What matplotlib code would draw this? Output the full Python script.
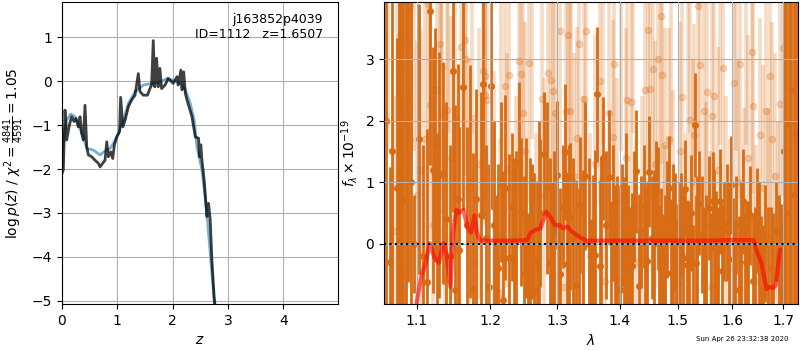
import numpy as np
import matplotlib
matplotlib.use('Agg')
import matplotlib.pyplot as plt
from matplotlib.ticker import NullLocator

# ---- left panel: log p(z) ----
z_smooth = [0.0, 0.01, 0.085, 0.157, 0.235, 0.31, 0.386, 0.447, 0.567, 0.688, 0.778, 0.869, 0.929,
            1.02, 1.11, 1.2, 1.32, 1.47, 1.65, 1.77, 1.9, 2.01, 2.14, 2.23, 2.32, 2.39, 2.44, 2.53,
            2.62, 2.68, 2.74, 2.77]
lnp_smooth = [-1.9, -1.5, -0.89, -0.75, -0.81, -1.04, -1.27, -1.53, -1.57, -1.68, -1.59, -1.53, -1.42,
              -1.19, -0.89, -0.51, -0.24, -0.09, -0.05, -0.02, 0.06, 0.02, -0.05, -0.2, -0.51, -0.89,
              -1.49, -2.02, -3.0, -3.92, -4.83, -5.3]

z_raw = [0.0, 0.024, 0.054, 0.085, 0.133, 0.175, 0.217, 0.253, 0.296, 0.326, 0.356, 0.386, 0.416,
         0.447, 0.477, 0.537, 0.597, 0.658, 0.688, 0.736, 0.778, 0.809, 0.839, 0.881, 0.917, 0.947,
         0.99, 1.04, 1.06, 1.10, 1.14, 1.2, 1.26, 1.32, 1.38, 1.41, 1.47, 1.545, 1.59, 1.62, 1.65,
         1.678, 1.71, 1.74, 1.77, 1.80, 1.864, 1.92, 1.955, 2.01, 2.08, 2.1, 2.15, 2.17, 2.2, 2.23,
         2.26, 2.35, 2.41, 2.47, 2.485, 2.51, 2.53, 2.57, 2.62, 2.65, 2.68, 2.71, 2.75, 2.78]
lnp_raw = [-2.1, -2.02, -0.66, -1.34, -1.0, -0.81, -0.92, -0.85, -1.04, -0.81, -1.19, -1.34, -0.55,
           -1.49, -1.68, -1.72, -1.8, -1.87, -1.95, -1.87, -1.8, -1.38, -1.72, -1.61, -1.76, -1.45,
           -1.27, -1.15, -0.37, -1.04, -0.89, -0.58, -0.43, -0.32, 0.17, -0.24, -0.32, -0.32, -0.17,
           -0.09, 0.92, -0.13, 0.52, -0.13, 0.29, -0.17, -0.09, 0.06, 0.02, -0.05, 0.1, -0.09, 0.25,
           -0.2, 0.21, -0.28, -0.43, -0.81, -1.27, -1.3, -1.72, -1.45, -1.8, -2.25, -3.08, -2.78,
           -3.16, -4.07, -4.9, -5.3]

# ---- right panel: spectrum (microns, f_lambda x 1e-19) ----
# binned points, marker inside the window
wave_a = [1.060, 1.065, 1.068, 1.074, 1.077, 1.080, 1.082, 1.086, 1.089, 1.093, 1.097, 1.103, 1.108,
          1.113, 1.117, 1.121, 1.124, 1.127, 1.130, 1.135, 1.139, 1.144, 1.148, 1.151, 1.155, 1.157,
          1.162, 1.167, 1.172, 1.176, 1.180, 1.187, 1.190, 1.194, 1.198, 1.201, 1.206, 1.212, 1.216,
          1.219, 1.222, 1.227, 1.231, 1.235, 1.242, 1.245, 1.249, 1.253, 1.258, 1.262, 1.265, 1.269,
          1.274, 1.280, 1.284, 1.289, 1.294, 1.299, 1.304, 1.308, 1.312, 1.315, 1.320, 1.324, 1.329,
          1.336, 1.344, 1.350, 1.356, 1.359, 1.363, 1.367, 1.372, 1.377, 1.382, 1.388, 1.392, 1.400,
          1.404, 1.407, 1.414, 1.420, 1.424, 1.428, 1.432, 1.436, 1.440, 1.446, 1.450, 1.455, 1.461,
          1.465, 1.470, 1.474, 1.480, 1.485, 1.488, 1.494, 1.500, 1.505, 1.510, 1.513, 1.517, 1.524,
          1.530, 1.532, 1.538, 1.543, 1.548, 1.556, 1.563, 1.570, 1.577, 1.580, 1.585, 1.590, 1.598,
          1.602, 1.608, 1.613, 1.621, 1.627, 1.634, 1.640, 1.648, 1.655, 1.664, 1.675, 1.686, 1.695,
          1.702, 1.706, 1.711, 1.716, 1.721, 1.726]
flux_a = [2.0, -0.3, 1.5, 0.9, 2.0, 1.35, 0.73, 2.0, 2.38, 1.0, 0.0, 1.7, -0.2,
          -0.63, 3.78, 1.2, 1.6, 0.2, 1.12, 1.15, 0.4, -0.2, 2.81, -0.75, 0.72, -0.11,
          2.55, 0.3, 1.01, -0.73, 0.72, 0.46, 2.6, 0.1, -0.7, 2.57, 0.3, -0.4, 1.0,
          -0.91, 0.91, -0.24, 0.6, -0.2, 1.33, 0.52, -0.5, 0.42, -0.1, 0.2, -0.75, -0.28,
          0.5, 1.46, 0.91, -0.3, 0.2, 1.12, -0.5, 0.6, 1.49, -0.33, 0.44, 0.1, -0.67,
          0.63, 1.1, 0.0, -0.18, -0.18, 2.43, -0.37, 1.39, 0.3, 1.08, 0.5, -0.55, -0.75,
          0.3, -0.11, -0.34, -0.37, 0.6, 1.18, -0.69, 0.2, 0.61, -0.28, 1.17, 0.1, 0.82,
          0.57, -0.2, -0.91, 0.39, 0.9, -0.48, 0.2, -0.65, 0.3, -0.23, 0.89, -0.34, 0.5,
          1.93, -0.31, 0.66, 0.15, -0.61, 0.58, 0.69, -0.1, 0.69, -0.45, 0.2, 0.34, 0.95,
          -0.25, 0.3, -0.75, 0.69, -0.3, 0.46, -0.6, 0.38, -0.5, 0.0, -0.4, 0.2, -0.3,
          1.5, 0.5, 1.94, 2.5, 0.8, 1.8]
err_a = [5.0, 1.55, 4.5, 2.45, 4.5, 3.0, 3.5, 4.5, 3.0, 4.0, 0.8, 2.2, 1.8,
         2.5, 2.5, 2.0, 1.9, 1.6, 2.0, 1.8, 1.9, 1.8, 2.3, 3.0, 2.2, 2.0,
         2.0, 1.6, 1.9, 2.2, 1.8, 2.0, 2.2, 1.5, 2.0, 2.0, 1.7, 1.7, 1.3,
         2.1, 1.5, 1.7, 1.2, 1.6, 1.3, 1.2, 1.6, 1.3, 1.5, 1.1, 1.9, 1.3,
         1.2, 1.0, 1.4, 1.7, 1.3, 1.2, 1.4, 1.0, 1.1, 1.5, 1.2, 1.3, 1.7,
         1.1, 1.2, 1.4, 1.3, 1.7, 1.1, 1.4, 1.0, 1.2, 1.1, 1.1, 1.5, 1.7,
         1.0, 1.2, 1.3, 1.2, 0.9, 1.0, 1.5, 0.9, 1.0, 1.3, 0.9, 1.0, 0.85,
         1.0, 1.1, 1.4, 0.95, 0.85, 1.2, 0.95, 1.3, 0.85, 1.1, 0.8, 1.05, 0.95,
         0.85, 1.1, 0.85, 0.95, 1.2, 0.85, 0.8, 0.95, 0.85, 1.1, 0.8, 0.95, 0.8,
         1.0, 0.8, 1.2, 0.85, 1.0, 0.8, 1.1, 0.85, 0.95, 0.95, 1.0, 0.8, 0.95,
         4.0, 4.5, 3.0, 4.0, 4.5, 4.0]

# binned points whose marker falls below the window
wave_c = [1.209, 1.238, 1.255, 1.272, 1.291, 1.302, 1.318, 1.333, 1.340, 1.353, 1.369, 1.385, 1.396,
          1.411, 1.417, 1.443, 1.458, 1.467, 1.477, 1.491, 1.497, 1.503, 1.520, 1.527, 1.535, 1.551,
          1.560, 1.566, 1.573, 1.594, 1.605, 1.617, 1.624, 1.631, 1.644, 1.652, 1.660, 1.669, 1.680,
          1.691, 1.698]
flux_c = [-1.5, -1.8, -1.3, -2.0, -1.6, -1.4, -2.2, -1.5, -1.7, -1.3, -1.9, -1.4, -1.6,
          -2.1, -1.4, -1.5, -1.8, -1.3, -1.6, -2.0, -1.4, -1.7, -1.5, -1.3, -1.9, -1.6,
          -1.4, -2.0, -1.5, -1.7, -1.3, -1.8, -1.4, -1.6, -1.5, -1.9, -1.4, -1.6, -1.5,
          -1.7, -1.4]
err_c = [2.3, 3.3, 1.8, 4.0, 2.6, 1.7, 3.8, 2.4, 2.9, 1.7, 3.3, 2.1, 2.7,
         3.9, 2.0, 2.4, 3.0, 1.8, 2.4, 3.3, 1.8, 2.7, 2.2, 1.6, 3.0, 2.4,
         1.9, 3.2, 2.1, 2.6, 1.7, 2.8, 1.9, 2.3, 2.1, 2.9, 1.7, 2.2, 2.0,
         2.5, 1.8]

# unbinned points (drawn faint)
wave_b = [1.0625, 1.0705, 1.0745, 1.078, 1.081, 1.0845, 1.0861, 1.0909, 1.0918, 1.096, 1.100, 1.106,
          1.1114, 1.1149, 1.1176, 1.122, 1.1274, 1.1305, 1.1318, 1.1336, 1.138, 1.1404, 1.141, 1.145,
          1.1508, 1.1595, 1.1647, 1.1665, 1.170, 1.174, 1.178, 1.184, 1.190, 1.1925, 1.1935, 1.196,
          1.205, 1.214, 1.216, 1.2209, 1.225, 1.2276, 1.238, 1.2418, 1.2452, 1.2481, 1.251, 1.257,
          1.262, 1.267, 1.2763, 1.280, 1.2851, 1.2897, 1.2936, 1.2963, 1.300, 1.304, 1.310, 1.3132,
          1.3159, 1.3195, 1.321, 1.326, 1.3301, 1.3343, 1.340, 1.3422, 1.3454, 1.352, 1.360, 1.3676,
          1.372, 1.375, 1.3826, 1.388, 1.3908, 1.396, 1.402, 1.410, 1.4115, 1.4187, 1.422, 1.428,
          1.438, 1.443, 1.4482, 1.4518, 1.4568, 1.460, 1.4655, 1.4703, 1.4715, 1.4774, 1.478, 1.4849,
          1.488, 1.492, 1.503, 1.5082, 1.515, 1.518, 1.5209, 1.527, 1.5294, 1.536, 1.5396, 1.5469,
          1.550, 1.5532, 1.560, 1.5625, 1.5654, 1.573, 1.576, 1.5822, 1.588, 1.596, 1.603, 1.608,
          1.611, 1.6157, 1.622, 1.627, 1.631, 1.6383, 1.6403, 1.645, 1.6531, 1.660, 1.6651, 1.670,
          1.6744, 1.6778, 1.683, 1.690, 1.6939, 1.699, 1.704]
flux_b = [4.5, 0.2, 5.0, 3.37, 2.88, -0.5, 3.24, 1.7, 3.87, 4.5, 0.8, 1.2,
          1.71, 3.9, 2.26, 0.3, 2.5, 3.24, 2.13, 2.88, -0.6, 2.17, 4.8, 1.4,
          2.01, 3.2, 3.31, 3.0, 0.9, 4.3, -0.3, 1.3, 2.8, 2.73, 2.41, 2.34,
          0.6, -0.8, 4.6, 2.56, 1.2, 2.75, 0.1, 2.97, 2.76, 2.12, 1.5, 2.94,
          4.2, -0.4, 2.35, 0.8, 2.78, 2.66, 2.48, 2.12, 0.3, 3.45, -0.7, 2.15,
          3.39, 2.16, 4.4, 1.1, 1.72, 3.25, 0.5, 2.35, 3.45, -0.2, 1.3, 2.65,
          4.1, -0.6, 2.13, 1.74, 2.92, 0.7, 4.5, 1.4, 2.34, 2.31, 4.2, -0.3,
          0.4, 2.5, 3.47, 2.51, 2.84, 1.3, 3.0, 3.7, 2.75, 1.61, -0.5, 1.71,
          4.6, 0.6, 1.5, 2.39, -0.2, 4.3, 2.01, 1.0, 1.77, 3.87, 2.9, 2.16,
          0.3, 2.47, -0.7, 2.08, 2.4, 1.2, 4.4, 2.86, 0.5, -0.4, 2.62, 4.5,
          1.0, 2.92, 0.2, 4.2, 1.4, 3.12, 2.24, -0.6, 1.77, 0.9, 2.16, 0.1,
          2.73, 1.71, 1.1, -0.2, 2.27, 3.18, 0.5]
err_b = [3.0, 2.2, 3.0, 2.6, 2.4, 2.8, 2.5, 2.2, 2.8, 3.0, 2.5, 2.3,
         2.4, 2.6, 2.2, 2.4, 2.3, 2.5, 2.1, 2.4, 2.6, 2.2, 3.0, 2.3,
         2.2, 2.4, 2.2, 2.3, 2.1, 2.5, 2.4, 2.2, 2.2, 2.0, 2.1, 2.0,
         2.2, 2.5, 3.0, 2.1, 1.9, 2.2, 2.3, 2.2, 2.0, 1.9, 2.1, 2.3,
         2.5, 2.2, 2.0, 1.9, 2.1, 2.0, 1.9, 1.8, 2.0, 2.4, 2.1, 1.9,
         2.2, 1.9, 3.0, 2.0, 1.8, 2.2, 1.9, 2.0, 2.3, 2.0, 2.1, 2.0,
         2.5, 2.1, 1.9, 1.9, 2.2, 2.0, 3.0, 2.1, 1.9, 2.0, 2.4, 2.0,
         2.0, 2.1, 2.3, 1.9, 2.1, 2.0, 2.2, 2.4, 2.0, 1.9, 2.1, 1.8,
         3.0, 1.9, 2.1, 2.0, 2.0, 2.5, 1.9, 2.0, 1.8, 2.4, 2.1, 1.9,
         2.0, 2.0, 2.2, 1.9, 2.0, 2.0, 2.8, 2.1, 1.9, 2.1, 2.0, 3.0,
         2.0, 2.2, 2.0, 2.6, 2.0, 2.3, 1.9, 2.2, 1.9, 2.0, 2.0, 2.1,
         2.2, 1.9, 2.0, 2.2, 2.0, 2.4, 2.3]

model_wave = [1.090, 1.0995, 1.1059, 1.1117, 1.117, 1.1235, 1.1293, 1.135, 1.1394, 1.145, 1.1483,
              1.153, 1.156, 1.1627, 1.168, 1.173, 1.178, 1.1815, 1.186, 1.20, 1.22, 1.24, 1.254,
              1.2588, 1.267, 1.274, 1.283, 1.29, 1.2965, 1.3034, 1.309, 1.315, 1.322, 1.329, 1.336,
              1.3455, 1.40, 1.45, 1.50, 1.55, 1.60, 1.641, 1.6485, 1.656, 1.662, 1.667, 1.6725,
              1.68, 1.685, 1.6895, 1.6935]
model_flux = [-1.4, -0.98, -0.53, -0.31, 0.01, -0.23, -0.31, 0.01, -0.15, -0.7, 0.18,
              0.55, 0.5, 0.55, 0.28, 0.18, 0.46, 0.18, 0.05, 0.05, 0.05, 0.05, 0.06,
              0.17, 0.23, 0.25, 0.52, 0.42, 0.3, 0.3, 0.25, 0.28, 0.2, 0.15, 0.1,
              0.05, 0.05, 0.05, 0.05, 0.05, 0.06, 0.06, -0.15, -0.3, -0.55, -0.74, -0.7,
              -0.72, -0.67, -0.35, -0.1]

lam_ticks = [1.1, 1.2, 1.3, 1.4, 1.5, 1.6, 1.7]
orange = '#d86c15'

fig = plt.figure(figsize=(8, 3.5), dpi=100)
ax1 = fig.add_axes([0.0775, 0.1314, 0.345, 0.863])
ax2 = fig.add_axes([0.48, 0.1314, 0.5175, 0.863])

ax1.plot(z_smooth, lnp_smooth, color='#7aaed6', lw=2)
ax1.plot(z_raw, lnp_raw, color='k', alpha=0.75, lw=2)
ax1.set_xlim(0, 4.99)
ax1.set_ylim(-5.07, 1.8)
ax1.set_xticks([0, 1, 2, 3, 4])
ax1.set_xlabel('$z$')
ax1.set_ylabel(r'$\log p(z)$ / $\chi^2=\frac{4841}{4591}=1.05$')
ax1.grid()
ax1.text(0.945, 0.965, 'j163852p4039\nID=1112   z=1.6507', ha='right', va='top',
         transform=ax1.transAxes, fontsize=9)

ax2.errorbar(wave_b, flux_b, yerr=err_b, marker='o', ms=4.5, linestyle='none',
             color=orange, alpha=0.25, elinewidth=2.6, capsize=0)
ax2.errorbar(wave_c, flux_c, yerr=err_c, marker='o', ms=4, linestyle='none',
             color=orange, elinewidth=2.0, capsize=0)
ax2.errorbar(wave_a, flux_a, yerr=err_a, marker='o', ms=4, linestyle='none',
             color=orange, elinewidth=2.0, capsize=0)
ax2.plot(model_wave, model_flux, color='r', alpha=0.6, lw=3, zorder=5)
ax2.axhline(0, color='k', linestyle=':', lw=1.5, zorder=6)
ax2.set_xscale('log')
ax2.set_xlim(1.058, 1.73)
ax2.set_ylim(-0.98, 3.93)
ax2.set_xticks(lam_ticks, [str(t) for t in lam_ticks])
ax2.xaxis.set_minor_locator(NullLocator())
ax2.set_yticks([0, 1, 2, 3])
ax2.set_xlabel(r'$\lambda$')
ax2.set_ylabel(r'$f_\lambda \times 10^{-19}$')
ax2.set_axisbelow(False)
ax2.grid()

fig.text(0.985, 0.031, 'Sun Apr 26 23:32:38 2020', ha='right', va='center', fontsize=5)

fig.savefig('out.png', dpi=100)
